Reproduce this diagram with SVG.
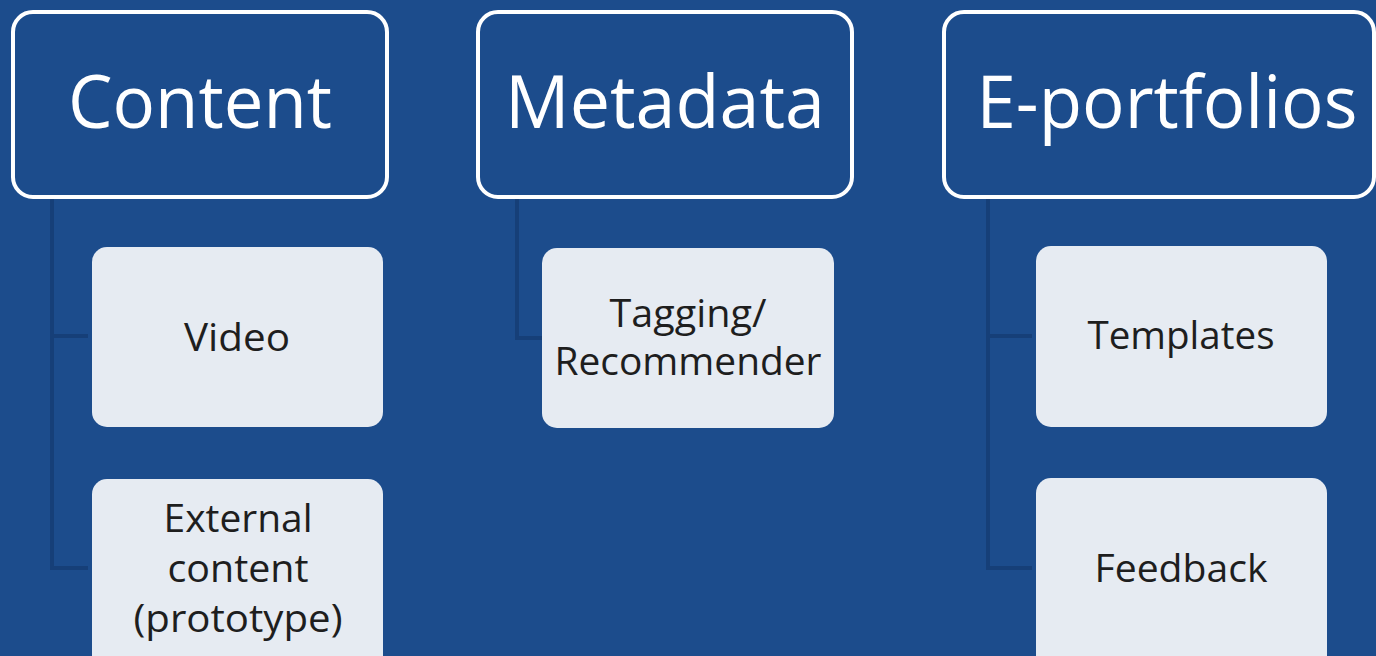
<svg xmlns="http://www.w3.org/2000/svg" width="1376" height="656" viewBox="0 0 1376 656">
<style>
.hdr{fill:#1c4c8c;stroke:#ffffff;stroke-width:4}
.child{fill:#e6ebf2;stroke:none}
.ht{font-family:"Open Sans","Noto Sans",sans-serif;font-size:74px;fill:#ffffff;text-anchor:middle}
.ct{font-family:"Open Sans","Noto Sans",sans-serif;font-size:39px;fill:#1e1e1e;text-anchor:middle}
.conn{fill:none;stroke:#163f78;stroke-width:4}
</style>
<rect x="0" y="0" width="1376" height="656" fill="#1c4c8c"/>
<g id="connectors">
<path class="conn" d="M52 197 V568 H88 M52 336 H88"/>
<path class="conn" d="M517 197 V338 H542"/>
<path class="conn" d="M988 197 V568 H1032 M988 336 H1032"/>
</g>
<g id="content">
<rect class="hdr" x="13" y="12" width="374" height="185" rx="20"/>
<text class="ht" x="200" y="128" textLength="264" lengthAdjust="spacingAndGlyphs">Content</text>
</g>
<g id="metadata">
<rect class="hdr" x="478" y="12" width="374" height="185" rx="20"/>
<text class="ht" x="665" y="128" textLength="320" lengthAdjust="spacingAndGlyphs">Metadata</text>
</g>
<g id="eportfolios">
<rect class="hdr" x="944" y="12" width="430" height="185" rx="20"/>
<text class="ht" x="1167" y="128" textLength="381" lengthAdjust="spacingAndGlyphs">E-portfolios</text>
</g>
<g id="video">
<rect class="child" x="92" y="247" width="291" height="180" rx="15"/>
<text class="ct" x="237" y="351" textLength="106" lengthAdjust="spacingAndGlyphs">Video</text>
</g>
<g id="external">
<rect class="child" x="92" y="479" width="291" height="200" rx="15"/>
<text class="ct" x="238" y="532" textLength="149" lengthAdjust="spacingAndGlyphs">External</text>
<text class="ct" x="238" y="582" textLength="141" lengthAdjust="spacingAndGlyphs">content</text>
<text class="ct" x="238" y="632" textLength="209" lengthAdjust="spacingAndGlyphs">(prototype)</text>
</g>
<g id="tagging">
<rect class="child" x="542" y="248" width="292" height="180" rx="15"/>
<text class="ct" x="688" y="327" textLength="157" lengthAdjust="spacingAndGlyphs">Tagging/</text>
<text class="ct" x="688" y="375" textLength="267" lengthAdjust="spacingAndGlyphs">Recommender</text>
</g>
<g id="templates">
<rect class="child" x="1036" y="246" width="291" height="181" rx="15"/>
<text class="ct" x="1181" y="349" textLength="187" lengthAdjust="spacingAndGlyphs">Templates</text>
</g>
<g id="feedback">
<rect class="child" x="1036" y="478" width="291" height="200" rx="15"/>
<text class="ct" x="1181" y="582" textLength="173" lengthAdjust="spacingAndGlyphs">Feedback</text>
</g>
</svg>
